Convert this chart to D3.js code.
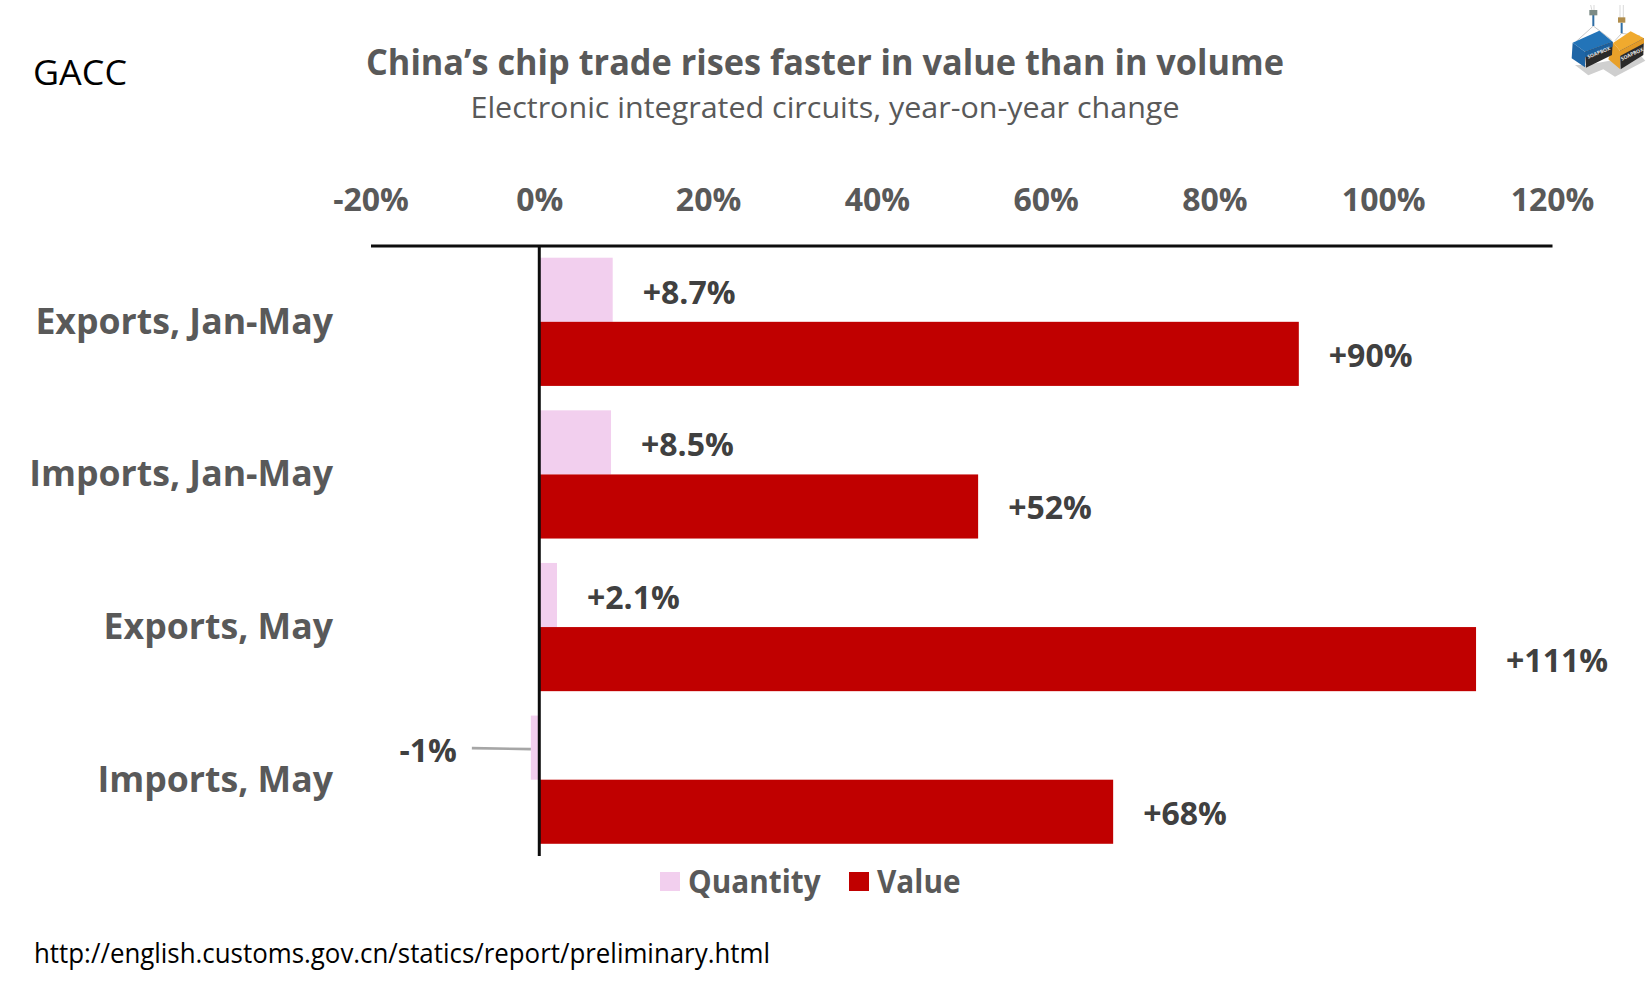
<!DOCTYPE html>
<html>
<head>
<meta charset="utf-8">
<script src="https://cdn.jsdelivr.net/npm/d3@7"></script>
<style>
  html, body { margin: 0; padding: 0; background: #fff; }
  svg { display: block; }
  text { font-family: "Open Sans", "Noto Sans", sans-serif; }
</style>
</head>
<body>
<div id="chart"></div>
<script>
// values
const categories = ['Exports, Jan-May', 'Imports, Jan-May', 'Exports, May', 'Imports, May'];
const quantity = [8.7, 8.5, 2.1, -1];
const value = [90, 52, 111, 68];
const quantityLabels = ['+8.7%', '+8.5%', '+2.1%', '-1%'];
const valueLabels = ['+90%', '+52%', '+111%', '+68%'];
const tickValues = [-20, 0, 20, 40, 60, 80, 100, 120];
const seriesNames = ['Quantity', 'Value'];
const seriesColors = ['#f2cfee', '#c00000'];

const width = 1650, height = 987;
const svg = d3.select('#chart').append('svg')
  .attr('width', width)
  .attr('height', height);

const x = d3.scaleLinear().domain([-20, 120]).range([370.5, 1552]);
const y = d3.scaleBand().domain(categories).range([245.5, 856]).paddingInner(0.16).paddingOuter(0.08);
const sub = d3.scaleBand().domain(seriesNames).range([0, y.bandwidth()]);

// horizontally squeeze text so it takes the same room as the narrower original face
function squeeze(sel, k) {
  sel.each(function() {
    const t = d3.select(this);
    t.attr('textLength', this.getComputedTextLength() * k).attr('lengthAdjust', 'spacingAndGlyphs');
  });
}

// header
svg.append('text').attr('x', 825).attr('y', 75)
  .attr('text-anchor', 'middle').attr('font-size', 35).attr('font-weight', 700).attr('fill', '#595959')
  .text('China\u2019s chip trade rises faster in value than in volume')
  .attr('textLength', 918).attr('lengthAdjust', 'spacingAndGlyphs');
svg.append('text').attr('x', 825).attr('y', 118)
  .attr('text-anchor', 'middle').attr('font-size', 30).attr('fill', '#595959')
  .text('Electronic integrated circuits, year-on-year change')
  .attr('textLength', 709).attr('lengthAdjust', 'spacingAndGlyphs');
svg.append('text').attr('x', 33).attr('y', 85)
  .attr('font-size', 35).attr('fill', '#000')
  .text('GACC')
  .attr('textLength', 94).attr('lengthAdjust', 'spacingAndGlyphs');
svg.append('text').attr('x', 34).attr('y', 963)
  .attr('font-size', 27).attr('fill', '#000')
  .text('http://english.customs.gov.cn/statics/report/preliminary.html')
  .attr('textLength', 736).attr('lengthAdjust', 'spacingAndGlyphs');

// bars
const groups = svg.selectAll('.row').data(categories).enter().append('g')
  .attr('class', 'row')
  .attr('transform', d => 'translate(0,' + y(d) + ')');

groups.append('rect')
  .attr('x', (d, i) => x(Math.min(0, quantity[i])))
  .attr('y', sub('Quantity'))
  .attr('width', (d, i) => Math.abs(x(quantity[i]) - x(0)))
  .attr('height', sub.bandwidth())
  .attr('fill', seriesColors[0]);

groups.append('rect')
  .attr('x', x(0))
  .attr('y', sub('Value'))
  .attr('width', (d, i) => x(value[i]) - x(0))
  .attr('height', sub.bandwidth())
  .attr('fill', seriesColors[1]);

// axis on top
const axis = svg.append('g')
  .attr('transform', 'translate(0,245.5)')
  .call(d3.axisTop(x).tickValues(tickValues).tickSize(0).tickPadding(35).tickFormat(d => d + '%'));
axis.select('.domain').attr('stroke', '#0d0d0d').attr('stroke-width', 3);
axis.selectAll('text')
  .attr('font-size', 32).attr('font-weight', 700).attr('fill', '#595959')
  .style('font-family', '"Open Sans", sans-serif');

// zero line
svg.append('line')
  .attr('x1', x(0)).attr('x2', x(0)).attr('y1', 245.5).attr('y2', 856)
  .attr('stroke', '#0d0d0d').attr('stroke-width', 3);

// category labels
svg.append('g').selectAll('text').data(categories).enter().append('text')
  .attr('x', 333)
  .attr('y', d => y(d) + y.bandwidth() / 2 + 12)
  .attr('text-anchor', 'end').attr('font-size', 36).attr('font-weight', 700).attr('fill', '#595959')
  .text(d => d)
  .call(squeeze, 0.99);

// data labels
const labelGap = 30;
groups.append('text')
  .attr('x', (d, i) => quantity[i] < 0 ? x(quantity[i]) - 74 : x(quantity[i]) + labelGap)
  .attr('y', (d, i) => sub('Quantity') + sub.bandwidth() / 2 + 14)
  .attr('text-anchor', (d, i) => quantity[i] < 0 ? 'end' : 'start')
  .attr('font-size', 32).attr('font-weight', 700).attr('fill', '#404040')
  .text((d, i) => quantityLabels[i])
  .call(squeeze, 1);

groups.append('text')
  .attr('x', (d, i) => x(value[i]) + labelGap)
  .attr('y', sub('Value') + sub.bandwidth() / 2 + 13)
  .attr('font-size', 32).attr('font-weight', 700).attr('fill', '#404040')
  .text((d, i) => valueLabels[i])
  .call(squeeze, 1);

// leader for the negative label
const neg = quantity.findIndex(d => d < 0);
svg.append('line')
  .attr('x1', x(quantity[neg]) - 59).attr('x2', x(quantity[neg]))
  .attr('y1', y(categories[neg]) + sub.bandwidth() / 2 + 0.5)
  .attr('y2', y(categories[neg]) + sub.bandwidth() / 2 + 1.5)
  .attr('stroke', '#a6a6a6').attr('stroke-width', 2.6);

// legend
const legendX = [660, 849];
const legend = svg.append('g').selectAll('g').data(seriesNames).enter().append('g')
  .attr('transform', (d, i) => 'translate(' + legendX[i] + ',872)');
legend.append('rect').attr('width', 20).attr('height', 19).attr('fill', (d, i) => seriesColors[i]);
legend.append('text').attr('x', 28).attr('y', 21)
  .attr('font-size', 32).attr('font-weight', 700).attr('fill', '#595959')
  .text(d => d)
  .call(squeeze, 0.93);

// logo: two containers hanging from cranes, traced in 3x crop coordinates
const logo = svg.append('g').attr('transform', 'translate(1500,0) scale(0.3333)');
const poly = (pts, fill) => logo.append('polygon').attr('points', pts).attr('fill', fill);
poly('225,195 265,226 310,208 345,230 436,182 420,165 260,195', '#cfcfcf');
logo.append('path').attr('d', 'M272,15 L278,40 M282,15 L282,40 M360,15 V55 M370,15 V55')
  .attr('fill', 'none').attr('stroke', '#d9d9d9').attr('stroke-width', 3);
logo.append('path').attr('d', 'M280,78 L228,125 M280,78 L335,120 M365,100 L345,122 M365,100 L420,108')
  .attr('fill', 'none').attr('stroke', '#c8c8c8').attr('stroke-width', 3);
logo.append('path').attr('d', 'M280,42 V78 M365,68 V100')
  .attr('fill', 'none').attr('stroke', '#2f6ea5').attr('stroke-width', 6);
poly('268,30 292,30 292,46 268,46', '#7c8b86');
poly('354,52 376,52 376,68 354,68', '#b08d4c');
// orange container
poly('340,128 392,94 432,115 360,152', '#f0aa2e');
poly('325,178 340,128 360,152 360,207', '#e8a02a');
poly('360,152 432,115 430,165 362,208', '#2a2a2a');
poly('360,152 432,115 432,130 360,168', '#e29a26');
// blue container
poly('218,128 298,92 338,125 255,155', '#2374b8');
poly('215,175 218,128 255,155 255,202', '#1e65a6');
poly('255,155 338,125 336,165 258,203', '#2a2a2a');
poly('255,155 338,125 338,140 255,172', '#1c5f9c');
logo.append('text').attr('x', 265).attr('y', 176).attr('font-size', 15).attr('font-weight', 700)
  .attr('fill', '#e6e6e6').attr('transform', 'rotate(-22 265 176)').text('SOAPBOX');
logo.append('text').attr('x', 366).attr('y', 182).attr('font-size', 15).attr('font-weight', 700)
  .attr('fill', '#e6e6e6').attr('transform', 'rotate(-25 366 182)').text('SOAPBOX');
</script>
</body>
</html>
